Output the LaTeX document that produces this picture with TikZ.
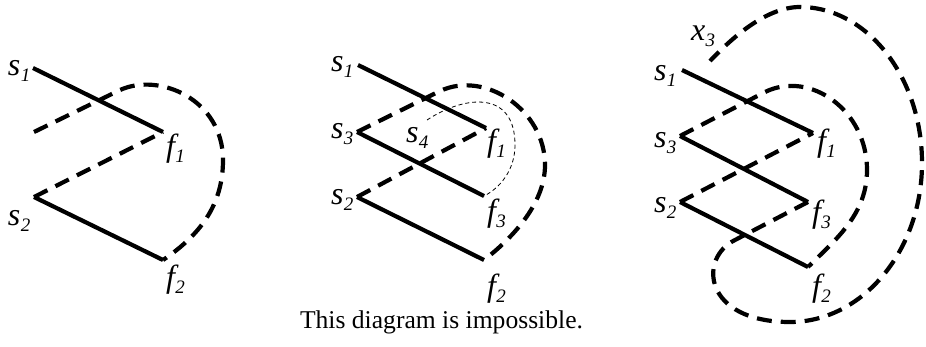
\documentclass[tikz,border=0pt]{standalone}
\usepackage{fontspec}
\setmainfont{Liberation Serif}
\newcommand{\lbl}[2]{{\fontsize{32}{32}\selectfont\itshape #1\kern0.5pt\raisebox{-6pt}{\fontsize{19}{19}\selectfont #2}}}
\tikzset{
 solidline/.style={line width=4.2pt},
 dashline/.style={line width=4.2pt, dash pattern=on 15pt off 9pt},
 thindash/.style={line width=0.8pt, dash pattern=on 4pt off 3pt},
 lab/.style={anchor=base west, inner sep=0pt, outer sep=0pt},
}
\begin{document}
\begin{tikzpicture}[x=1pt,y=-1pt]
\useasboundingbox (0,0) rectangle (926,346);
% ---------- panel 1
\coordinate (A-s1) at (33,68);
\coordinate (A-f1) at (163,132);
\coordinate (A-s2) at (34,197);
\coordinate (A-f2) at (163,260);
\coordinate (A-x) at (34,132);
\coordinate (A-a) at (120,90);
\coordinate (A-r) at (223,160);
\draw[solidline] (A-s1) -- (A-f1);
\draw[solidline] (A-s2) -- (A-f2);
\draw[dashline] (A-s2) -- (A-f1);
\draw[dashline] (A-x) -- (A-a) .. controls (160,72) and (223,100) .. (A-r) .. controls (223,205) and (200,235) .. (A-f2);
\node[lab] (A-ls1) at (8,75) {\lbl{s}{1}};
\node[lab] (A-ls2) at (8,225) {\lbl{s}{2}};
\node[lab] (A-lf1) at (166,156) {\lbl{f}{1}};
\node[lab] (A-lf2) at (166,287) {\lbl{f}{2}};
% ---------- panel 2
\coordinate (B-s1) at (358,65);
\coordinate (B-f1) at (486,128);
\coordinate (B-s3) at (357,132);
\coordinate (B-f3) at (484,196);
\coordinate (B-s2) at (357,197);
\coordinate (B-f2) at (484,260);
\coordinate (B-a) at (440,91);
\coordinate (B-r) at (545,165);
\coordinate (B-t) at (427,120);
\coordinate (B-u) at (515,145);
\draw[solidline] (B-s1) -- (B-f1);
\draw[solidline] (B-s3) -- (B-f3);
\draw[solidline] (B-s2) -- (B-f2);
\draw[dashline] (B-s3) -- (B-a) .. controls (485,70) and (545,110) .. (B-r) .. controls (545,205) and (510,240) .. (B-f2);
\draw[dashline] (B-s2) -- (B-f1);
\draw[thindash] (B-t) .. controls (465,95) and (515,90) .. (B-u) .. controls (515,170) and (500,188) .. (B-f3);
\node[lab] (B-ls1) at (331,71) {\lbl{s}{1}};
\node[lab] (B-ls3) at (331,138) {\lbl{s}{3}};
\node[lab] (B-ls2) at (331,204) {\lbl{s}{2}};
\node[lab] (B-ls4) at (406,142) {\lbl{s}{4}};
\node[lab] (B-lf1) at (487,151) {\lbl{f}{1}};
\node[lab] (B-lf3) at (487,221) {\lbl{f}{3}};
\node[lab] (B-lf2) at (487,296) {\lbl{f}{2}};
% ---------- panel 3
\coordinate (C-s1) at (682,70);
\coordinate (C-f1) at (813,133);
\coordinate (C-s3) at (680,136);
\coordinate (C-f3) at (808,202);
\coordinate (C-s2) at (680,202);
\coordinate (C-f2) at (808,267);
\coordinate (C-a) at (765,92);
\coordinate (C-r) at (867,170);
\coordinate (C-b) at (735,240);
\coordinate (C-bot) at (790,322);
\coordinate (C-right) at (922,163);
\coordinate (C-top) at (800,7);
\coordinate (C-x3) at (710,61);
\draw[solidline] (C-s1) -- (C-f1);
\draw[solidline] (C-s3) -- (C-f3);
\draw[solidline] (C-s2) -- (C-f2);
\draw[dashline] (C-s3) -- (C-a) .. controls (810,70) and (867,110) .. (C-r) .. controls (867,215) and (835,240) .. (C-f2);
\draw[dashline] (C-s2) -- (C-f1);
\draw[dashline] (C-f3) -- (C-b) .. controls (698,258) and (703,322) .. (C-bot) .. controls (862,322) and (922,251) .. (C-right) .. controls (922,77) and (867,7) .. (C-top) .. controls (765,7) and (730,40) .. (C-x3);
\node[lab] (C-ls1) at (654,80) {\lbl{s}{1}};
\node[lab] (C-ls3) at (654,147) {\lbl{s}{3}};
\node[lab] (C-ls2) at (654,212) {\lbl{s}{2}};
\node[lab] (C-lf1) at (817,151) {\lbl{f}{1}};
\node[lab] (C-lf3) at (812,222) {\lbl{f}{3}};
\node[lab] (C-lf2) at (812,296) {\lbl{f}{2}};
\node[lab] (C-lx3) at (691,40) {\lbl{x}{3}};
% ---------- caption
\node[anchor=base, inner sep=0pt, font=\fontsize{25.6}{26}\selectfont] (cap) at (441.5,328) {This diagram is impossible.};
\end{tikzpicture}
\end{document}
